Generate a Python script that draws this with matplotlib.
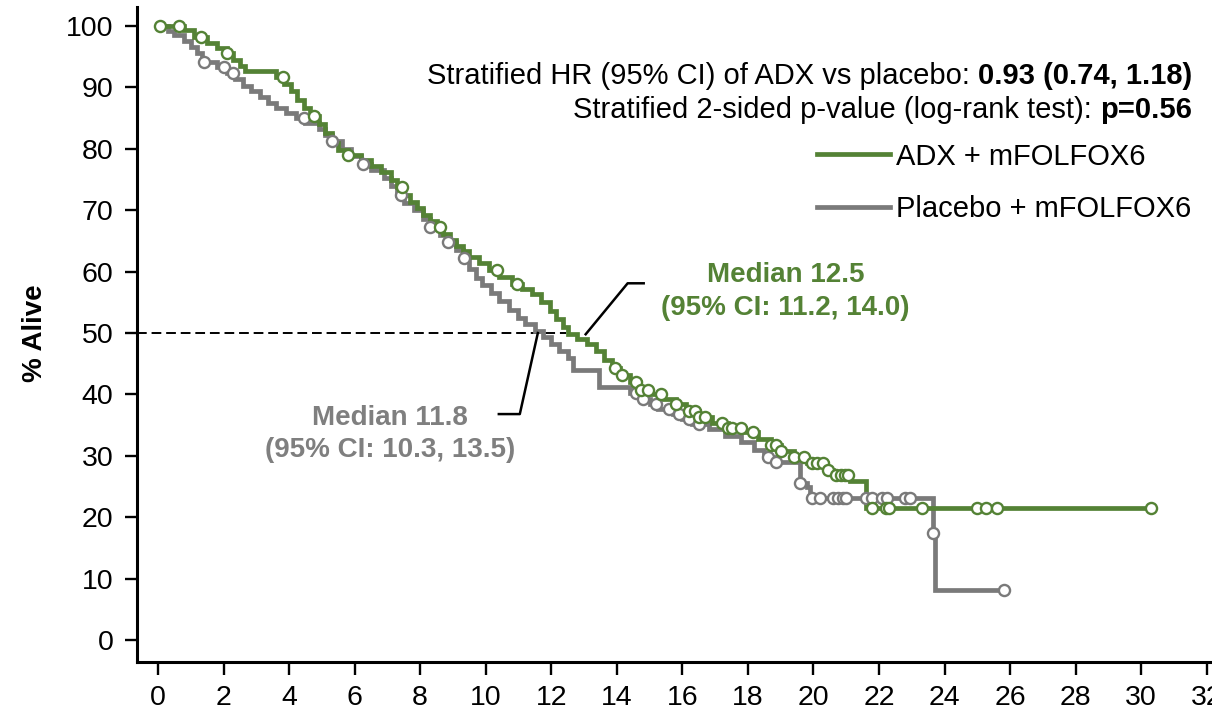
import numpy as np
import matplotlib
matplotlib.use("Agg")
from matplotlib import pyplot as plt

# Kaplan-Meier steps: (event time in months, % alive after the step)
adx_times = [0.8, 1.1, 1.5, 1.8, 2.1, 2.3, 2.5, 2.65, 3.6, 3.85, 4.05, 4.25, 4.45, 4.65, 4.9,
             5.1, 5.3, 5.5, 5.8, 6.2, 6.5, 6.8, 7.1, 7.3, 7.5, 7.7, 7.9, 8.1, 8.3, 8.5, 8.7,
             8.9, 9.1, 9.3, 9.5, 9.8, 10.1, 10.4, 10.8, 11.1, 11.4, 11.7, 11.95, 12.15, 12.35,
             12.5, 12.8, 13.1, 13.35, 13.6, 13.85, 14.1, 14.4, 14.7, 15.0, 15.4, 15.8, 16.1,
             16.5, 16.9, 17.4, 17.9, 18.3, 18.7, 19.0, 19.4, 19.8, 20.4, 20.6, 21.1, 21.6]
adx_surv = [99.3, 98.2, 97.3, 96.5, 95.6, 94.5, 93.5, 92.6, 91.7, 90.5, 89.4, 88.0, 86.6, 85.3, 84.0,
            82.6, 81.0, 79.8, 79.0, 78.2, 77.2, 76.2, 75.0, 73.8, 72.5, 71.4, 70.3, 69.3, 68.2, 67.2, 66.2,
            65.2, 64.2, 63.3, 62.4, 61.4, 60.3, 59.1, 58.0, 57.2, 56.3, 55.0, 53.6, 52.3, 51.0,
            49.8, 49.0, 48.2, 47.0, 45.6, 44.3, 43.2, 42.0, 40.8, 40.0, 39.3, 38.5, 37.3,
            36.4, 35.3, 34.5, 33.8, 32.8, 31.7, 30.8, 29.8, 28.8, 27.7, 26.9, 25.9, 21.5]
adx_end = 30.35
adx_censored = [0.05, 0.65, 1.3, 2.1, 3.8, 4.75, 5.8, 7.45, 8.6, 10.35, 10.95, 13.95, 14.15,
                14.6, 14.75, 14.95, 15.35, 15.8, 16.2, 16.4, 16.5, 16.7, 17.2, 17.4, 17.5, 17.8,
                18.15, 18.7, 18.85, 19.0, 19.4, 19.7, 19.95, 20.1, 20.3, 20.45, 20.7, 20.85,
                20.95, 21.05, 21.8, 22.2, 22.3, 23.3, 25.0, 25.25, 25.6, 30.3]

pla_times = [0.3, 0.5, 0.8, 1.0, 1.2, 1.35, 1.8, 2.1, 2.35, 2.6, 2.85, 3.1, 3.35, 3.6, 3.9,
             4.2, 4.5, 4.9, 5.1, 5.3, 5.6, 5.9, 6.2, 6.5, 6.9, 7.1, 7.3, 7.5, 7.8, 8.1, 8.3,
             8.6, 8.85, 9.1, 9.3, 9.5, 9.7, 9.9, 10.15, 10.4, 10.7, 11.0, 11.2, 11.5, 11.75,
             12.0, 12.25, 12.5, 12.65, 13.45, 14.4, 14.7, 15.0, 15.25, 15.7, 16.0, 16.3, 16.8,
             17.3, 17.8, 18.2, 18.5, 18.8, 19.6, 19.8, 19.9, 23.65, 23.7]
pla_surv = [99.2, 98.5, 97.5, 96.6, 95.6, 94.1, 93.3, 92.3, 91.3, 90.3, 89.4, 88.5, 87.5, 86.6, 85.8,
            85.0, 84.2, 83.3, 82.3, 81.2, 80.0, 78.8, 77.5, 76.5, 75.3, 74.0, 72.5, 71.2, 70.0, 68.5, 67.3,
            66.0, 64.8, 63.5, 62.2, 60.5, 59.0, 57.8, 56.5, 55.2, 53.8, 52.5, 51.5, 50.3, 49.3,
            48.2, 47.0, 46.0, 44.0, 41.2, 40.3, 39.3, 38.5, 37.6, 36.8, 36.0, 35.2, 34.3,
            33.3, 32.3, 31.0, 29.8, 29.0, 25.6, 24.9, 23.1, 17.4, 8.1]
pla_end = 25.8
pla_censored = [1.4, 2.0, 2.3, 4.45, 5.3, 6.25, 7.4, 8.3, 8.85, 9.35, 14.6, 14.8, 15.2, 15.6,
                15.9, 16.2, 16.5, 18.6, 18.85, 19.6, 19.95, 20.2, 20.6, 20.75, 20.9, 21.0, 21.6,
                21.8, 22.1, 22.25, 22.8, 22.95, 23.65, 25.8]

labels = ["ADX + mFOLFOX6", "Placebo + mFOLFOX6"]
green = "#548235"
grey = "#7a7a7a"


def km_curve(times, surv, t_end):
    t = np.r_[0.0, times, t_end]
    s = np.r_[100.0, surv, surv[-1]]
    return t, s


def surv_at(times, surv, q):
    t = np.r_[0.0, times]
    s = np.r_[100.0, surv]
    idx = np.searchsorted(t, q, side="right") - 1
    return s[idx]


plt.rcParams["font.family"] = ["Liberation Sans", "DejaVu Sans"]

W, H = 1212, 714
fig = plt.figure(figsize=(W / 100, H / 100), dpi=100)
ax = fig.add_axes([137 / W, 1 - 661.7 / H, 1 - 137 / W, (661.7 - 7) / H])

series = [
    (pla_times, pla_surv, pla_end, pla_censored, grey),
    (adx_times, adx_surv, adx_end, adx_censored, green),
]
lines = {}
for times, surv, t_end, cens, col in series:
    t, s = km_curve(times, surv, t_end)
    (ln,) = ax.plot(t, s, drawstyle="steps-post", color=col, lw=3.4, solid_joinstyle="miter", zorder=3)
    lines[col] = ln
for times, surv, t_end, cens, col in series:
    ax.plot(cens, surv_at(times, surv, np.array(cens)), "o", ms=8, mfc="white", mec=col,
            mew=1.7, ls="none", zorder=4)

# median guide and leader lines
ax.plot([-0.64, 12.44], [50, 50], color="black", lw=1.4, ls=(0, (5, 2.5)), zorder=2)
ax.plot([13.05, 14.33, 14.82], [49.8, 58.1, 58.1], color="black", lw=1.8, zorder=5)
ax.plot([11.59, 11.04, 10.4], [50.0, 36.8, 36.8], color="black", lw=1.8, zorder=5)

ax.text(19.15, 58.3, "Median 12.5", color=green, fontsize=20, weight="bold", ha="center", va="baseline")
ax.text(19.15, 52.9, "(95% CI: 11.2, 14.0)", color=green, fontsize=20, weight="bold", ha="center", va="baseline")
ax.text(7.07, 35.0, "Median 11.8", color="#7f7f7f", fontsize=20, weight="bold", ha="center", va="baseline")
ax.text(7.07, 29.8, "(95% CI: 10.3, 13.5)", color="#7f7f7f", fontsize=20, weight="bold", ha="center", va="baseline")

ax.set_xlim(-0.64, 32.16)
ax.set_ylim(-3.53, 103.1)
ax.set_xticks(np.arange(0, 33, 2))
ax.set_yticks(np.arange(0, 101, 10))
ax.tick_params(direction="out", length=9, width=1.7, labelsize=20.5, pad=8, colors="black")
for side in ["top", "right"]:
    ax.spines[side].set_visible(False)
for side in ["left", "bottom"]:
    ax.spines[side].set_linewidth(2.2)
ax.set_ylabel("% Alive", fontsize=20, weight="bold")
ax.yaxis.set_label_coords(-0.083, 0.502)

ax.legend([lines[green], lines[grey]], labels, loc="center left",
          bbox_to_anchor=(817 / W, 1 - 183 / H), bbox_transform=fig.transFigure,
          frameon=False, borderpad=0, borderaxespad=0, handlelength=2.5,
          handletextpad=0.2, labelspacing=0.85, fontsize=21)

# stats text: regular part followed by a bold part, right aligned
renderer = fig.canvas.get_renderer()
fs = 21
space_px = 0.278 * fs * 100 / 72
stats = [("Stratified HR (95% CI) of ADX vs placebo:", "0.93 (0.74, 1.18)", 84),
         ("Stratified 2-sided p-value (log-rank test):", "p=0.56", 118)]
for regular, bold, ypx in stats:
    tb = fig.text(1192 / W, 1 - ypx / H, bold, fontsize=fs, weight="bold", ha="right", va="baseline")
    bb = tb.get_window_extent(renderer)
    fig.text((bb.x0 - space_px) / W, 1 - ypx / H, regular, fontsize=fs, ha="right", va="baseline")

fig.savefig("out.png", dpi=100)
